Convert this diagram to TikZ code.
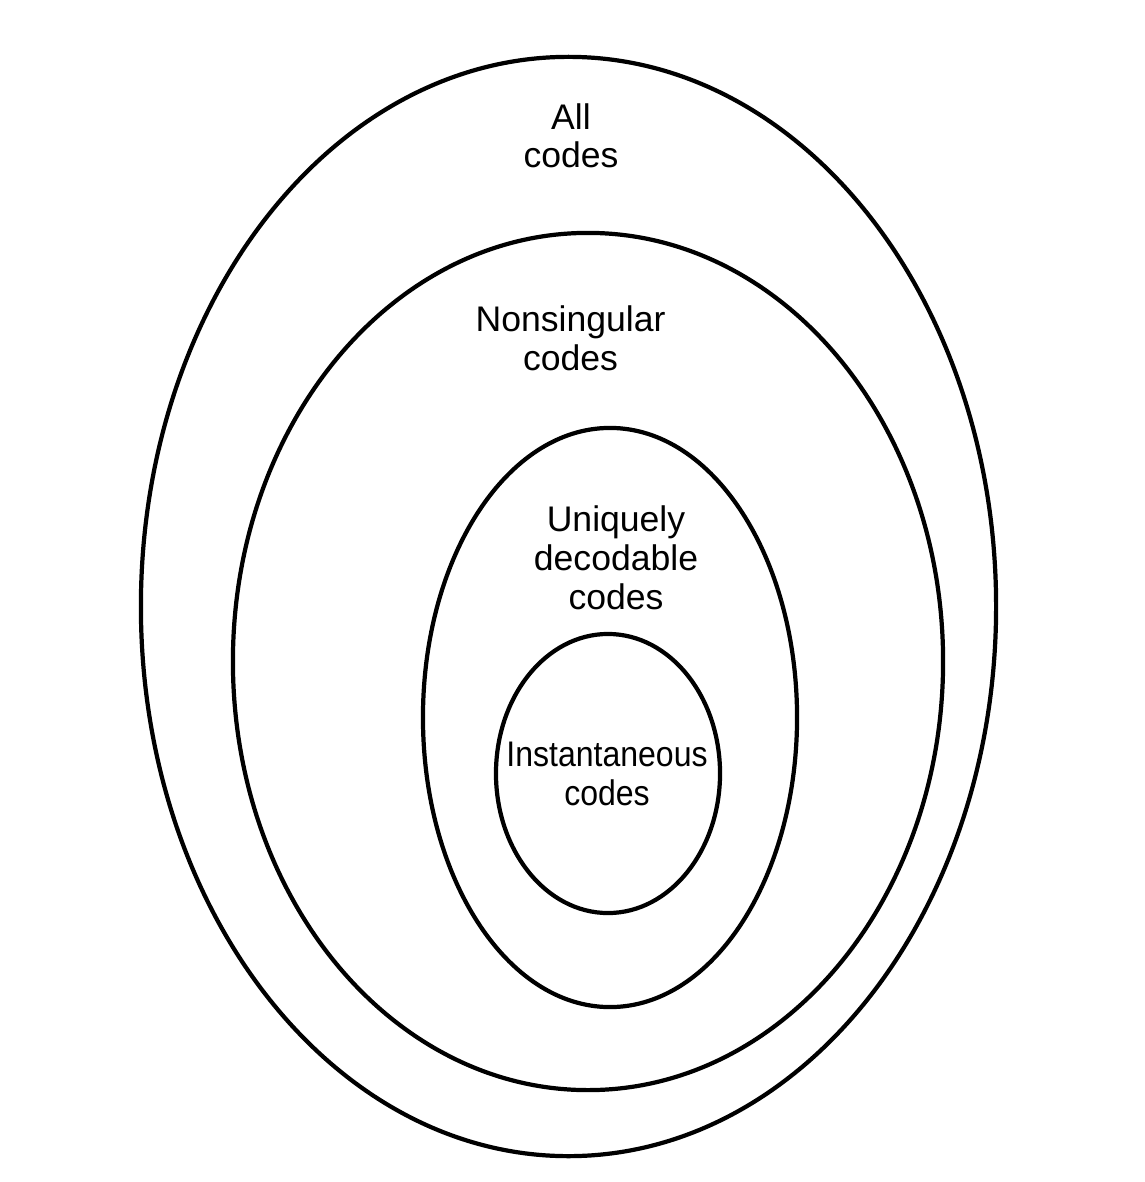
\documentclass[tikz,border=0pt]{standalone}
\usepackage{fontspec}
\setmainfont{Liberation Sans}
\newfontfamily\narrowfont{Liberation Sans}[FakeStretch=0.9]
\usetikzlibrary{shapes.geometric}
\begin{document}
\begin{tikzpicture}[x=0.025cm,y=-0.025cm,
  set/.style={draw,ellipse,line width=3pt,inner sep=0pt},
  lbl/.style={align=center,anchor=base,font=\fontsize{25.3pt}{27.7pt}\selectfont}]
\useasboundingbox (0,0) rectangle (1144,1182);
\node[set,minimum width=21.375cm,minimum height=27.475cm] (A) at (568.5,606.5){};
\node[set,minimum width=17.75cm,minimum height=21.425cm] (N) at (588,661.5){};
\node[set,minimum width=9.35cm,minimum height=14.475cm] (U) at (610,717.5){};
\node[set,minimum width=5.6cm,minimum height=6.975cm] (I) at (608,773.5){};
\node[lbl] (a) at (571,168){All\\codes};
\node[lbl] (n) at (570.5,370){Nonsingular\\codes};
\node[lbl] (u) at (616,609){Uniquely\\decodable\\codes};
\node[lbl,font={\narrowfont\fontsize{25.3pt}{27.2pt}\selectfont}] (i) at (607,805){Instantaneous\\codes};
\end{tikzpicture}
\end{document}
